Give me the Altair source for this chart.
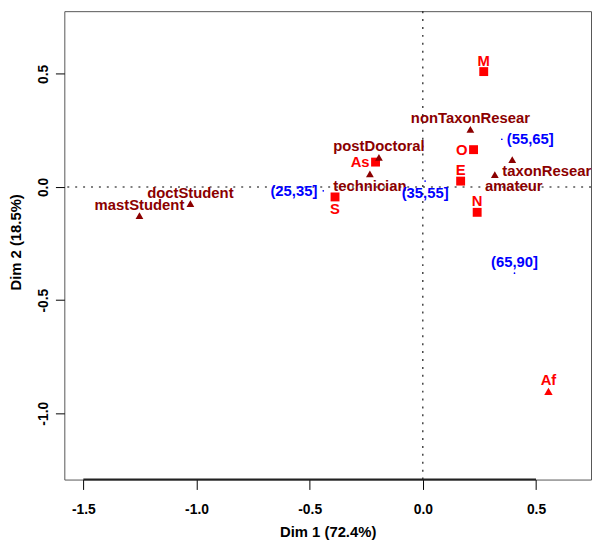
import altair as alt
import pandas as pd

# ---------------- data ----------------
# active rows (regions): red squares
row_names = ["M", "O", "E", "N", "S", "As"]
row_x = [0.269, 0.224, 0.167, 0.240, -0.388, -0.209]
row_y = [0.510, 0.165, 0.026, -0.112, -0.044, 0.110]
row_lab = ["above", "left", "above", "above", "below", "left"]

# row drawn as a red triangle
srow_names = ["Af"]
srow_x = [0.555]
srow_y = [-0.903]
srow_lab = ["above"]

# columns (people): dark red triangles
col_names = ["mastStudent", "doctStudent", "postDoctoral", "technician",
             "nonTaxonResear", "taxonResear", "amateur"]
col_x = [-1.252, -1.027, -0.194, -0.234, 0.210, 0.395, 0.318]
col_y = [-0.127, -0.073, 0.131, 0.058, 0.255, 0.121, 0.055]
col_lab = ["above", "above", "above", "below", "above", "belowright", "belowright"]

# supplementary age classes: blue
age_names = ["(25,35]", "(35,55]", "(55,65]", "(65,90]"]
age_x = [-0.440, 0.010, 0.349, 0.405]
age_y = [-0.017, 0.026, 0.211, -0.381]
age_lab = ["left", "below", "right", "above"]

x_ticks = [-1.5, -1.0, -0.5, 0.0, 0.5]
y_ticks = [-1.0, -0.5, 0.0, 0.5]
x_title = "Dim 1 (72.4%)"
y_title = "Dim 2 (18.5%)"

# ---------------- table ----------------
def block(names, xs, ys, kind, labs):
    return pd.DataFrame({"name": names, "x": xs, "y": ys,
                         "kind": [kind] * len(names), "pos": labs})

df = pd.concat([
    block(row_names, row_x, row_y, "row", row_lab),
    block(srow_names, srow_x, srow_y, "row_sup", srow_lab),
    block(col_names, col_x, col_y, "col", col_lab),
    block(age_names, age_x, age_y, "age", age_lab),
], ignore_index=True)

zero_df = pd.DataFrame({"v": [0.0]})
axis_df = pd.DataFrame({"lo": [min(x_ticks)], "hi": [max(x_ticks)]})

# ---------------- layout / style ----------------
W, H = 533, 474
FONT = "Liberation Sans, Arial, Helvetica, sans-serif"
xdom = [-1.584, 0.743]
ydom = [-1.293, 0.777]

x_scale = alt.Scale(domain=xdom, nice=False, zero=False)
y_scale = alt.Scale(domain=ydom, nice=False, zero=False)

minus_expr = "(datum.value < 0 ? '-' : '') + format(abs(datum.value), '.1f')"
x_axis = alt.Axis(values=x_ticks, labelExpr=minus_expr, title=x_title,
                  tickSize=10, labelPadding=24, labelBaseline="alphabetic",
                  labelFontSize=14, titleFontSize=15,
                  titleY=58, titleBaseline="alphabetic")
y_axis = alt.Axis(values=y_ticks, labelExpr=minus_expr, title=y_title,
                  tickSize=9, labelPadding=8, labelAngle=-90,
                  labelAlign="center", labelBaseline="alphabetic",
                  labelFontSize=14, titleFontSize=15, titleAngle=-90,
                  titleX=-44, titleY=233.5, titleAlign="center",
                  titleBaseline="alphabetic")

kind_domain = ["row", "row_sup", "col", "age"]
color_scale = alt.Scale(domain=kind_domain,
                        range=["#FF0000", "#FF0000", "#8B0000", "#0000FF"])

X = alt.X("x:Q", scale=x_scale, axis=x_axis)
Y = alt.Y("y:Q", scale=y_scale, axis=y_axis)
COLOR = alt.Color("kind:N", scale=color_scale, legend=None)

hline = alt.Chart(zero_df).mark_rule(color="black", strokeWidth=1.1,
                                     strokeDash=[2, 6]).encode(
    y=alt.Y("v:Q", scale=y_scale, axis=y_axis))
vline = alt.Chart(zero_df).mark_rule(color="black", strokeWidth=1.1,
                                     strokeDash=[2, 6]).encode(
    x=alt.X("v:Q", scale=x_scale, axis=x_axis))

xline = alt.Chart(axis_df).mark_rule(color="#222", strokeWidth=2).encode(
    x=alt.X("lo:Q", scale=x_scale, axis=x_axis), x2="hi:Q", y=alt.value(H))

marker_styles = {
    "row": dict(shape="square", size=81, color="#FF0000"),
    "row_sup": dict(shape="triangle-up", size=72, color="#FF0000"),
    "col": dict(shape="triangle-up", size=62, color="#8B0000"),
    "age": dict(shape="circle", size=3, color="#0000FF"),
}
point_layers = []
for k, st in marker_styles.items():
    point_layers.append(
        alt.Chart(df).transform_filter(alt.datum.kind == k).mark_point(
            filled=True, opacity=1, strokeWidth=0, **st).encode(x=X, y=Y))

placements = {
    "above": ("center", 0, -11),
    "below": ("center", 0, 12),
    "left": ("right", -6, 0),
    "right": ("left", 5, 0),
    "belowright": ("left", -10, 12),
}
texts = []
for p, (al, dx, dy) in placements.items():
    texts.append(
        alt.Chart(df).transform_filter(alt.datum.pos == p).mark_text(
            align=al, baseline="middle", dx=dx, dy=dy, font=FONT,
            fontSize=15, fontWeight="bold").encode(
            x=X, y=Y, text="name:N", color=COLOR))

chart = alt.layer(hline, vline, xline, *point_layers, *texts).properties(
    width=W, height=H,
    autosize=alt.AutoSizeParams(type="none"),
    padding={"left": 57, "top": 0, "right": 1, "bottom": 62},
    background="white",
).configure_view(stroke="#555", strokeWidth=1, fill="white").configure_axis(
    grid=False, domain=False, tickColor="black", tickWidth=1,
    labelColor="black", titleColor="black", labelFont=FONT, titleFont=FONT,
    labelFontWeight="bold", titleFontWeight="bold")

chart.save("out.html", embed_options={"renderer": "svg", "actions": False})
